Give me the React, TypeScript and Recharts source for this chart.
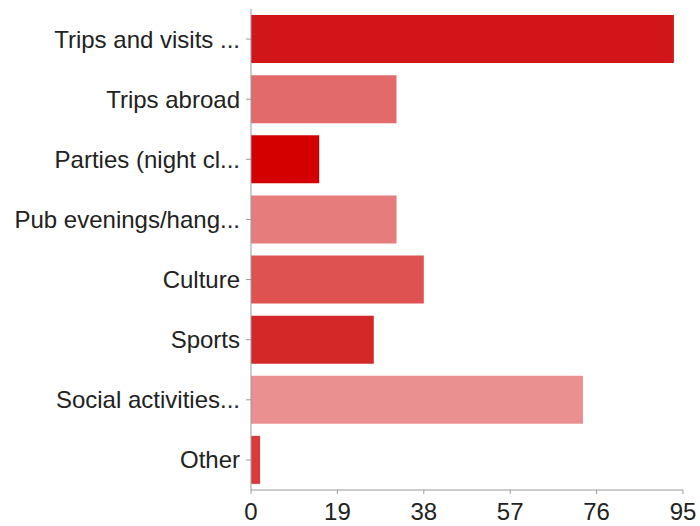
import { BarChart, Bar, XAxis, YAxis, Cell } from 'recharts';

const categories = [
  'Trips and visits ...',
  'Trips abroad',
  'Parties (night cl...',
  'Pub evenings/hang...',
  'Culture',
  'Sports',
  'Social activities...',
  'Other',
];
const counts = [93, 32, 15, 32, 38, 27, 73, 2];
const barColors = ['#d21518', '#e26a6a', '#d40000', '#e67c7c', '#de5252', '#d42727', '#ea9090', '#dc3a3a'];
const xTicks = [0, 19, 38, 57, 76, 95];

const data = categories.map((name, i) => ({ name, value: counts[i] }));

const font = { fontFamily: '"Liberation Sans", Arial, sans-serif', fontSize: 24, fill: '#222' };

export default function App() {
  return (
    <div style={{ position: 'absolute', left: 0, top: 0, width: 700, height: 526, background: '#fff' }}>
      <BarChart
        width={700}
        height={526}
        data={data}
        layout="vertical"
        margin={{ top: 9, right: 17, bottom: 0, left: 0 }}
        barCategoryGap="10%"
      >
        <XAxis
          type="number"
          domain={[0, 95]}
          ticks={xTicks}
          interval={0}
          stroke="#999"
          tickSize={4}
          tickMargin={9}
          height={36}
          tick={font}
          allowDataOverflow
        />
        <YAxis
          type="category"
          dataKey="name"
          width={251}
          stroke="#999"
          tickSize={5}
          tickMargin={6}
          interval={0}
          tick={font}
        />
        <Bar dataKey="value" isAnimationActive={false}>
          {data.map((d, i) => (
            <Cell key={d.name} fill={barColors[i]} />
          ))}
        </Bar>
      </BarChart>
    </div>
  );
}
